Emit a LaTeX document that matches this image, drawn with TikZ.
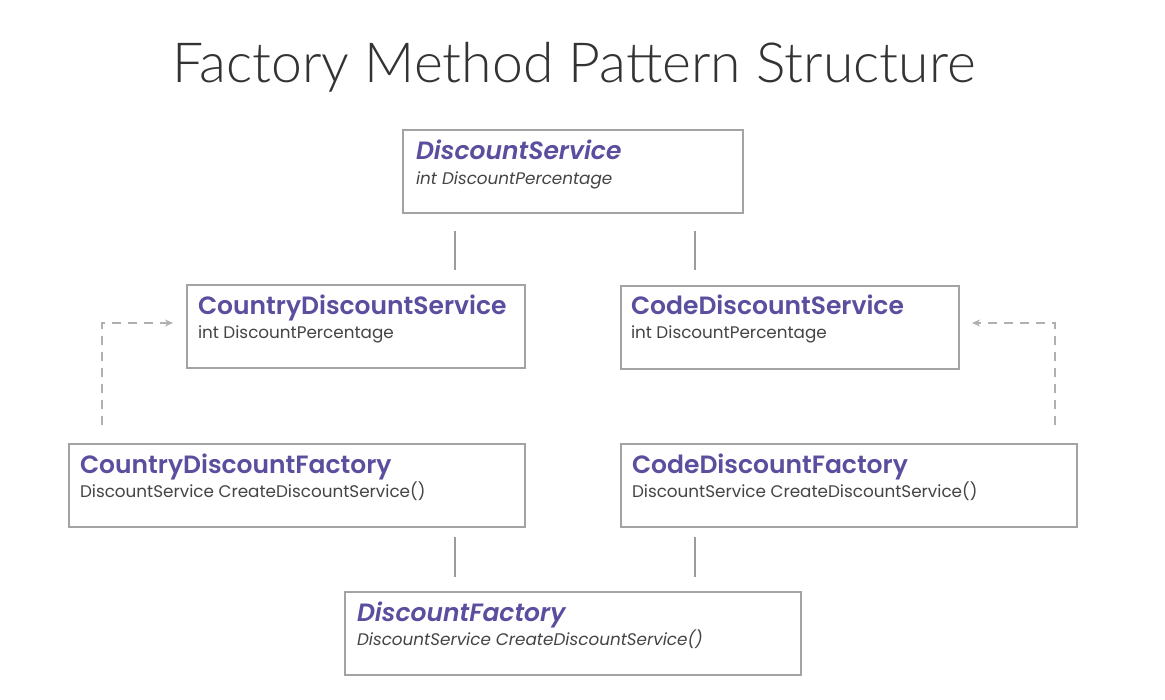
\documentclass[tikz,border=0pt]{standalone}
\usepackage{fontspec}
\setmainfont{Poppins}
\newfontfamily\titlefont{Lato Light}
\newfontfamily\headfont{Poppins SemiBold}
\usetikzlibrary{calc,arrows.meta}
\definecolor{purp}{HTML}{5A4E9E}
\definecolor{txt}{HTML}{444444}
\definecolor{boxc}{HTML}{A3A3A3}
\definecolor{linec}{HTML}{9C9C9C}
\definecolor{dashc}{HTML}{B0B0B0}
\tikzset{
  box/.style={draw=boxc, line width=2.4pt, fill=white, rectangle, inner sep=0pt},
  head/.style={anchor=base west, inner sep=0pt, text=purp, font=\headfont\fontsize{25}{28}\selectfont},
  sub/.style={anchor=base west, inner sep=0pt, text=txt, font=\fontsize{16.8}{20}\selectfont},
  conn/.style={draw=linec, line width=2pt},
  dep/.style={draw=dashc, line width=2pt, dash pattern=on 9pt off 7pt, -{Stealth[length=8pt,width=7pt]}},
}
\begin{document}
\begin{tikzpicture}[x=1pt,y=-1pt]
\useasboundingbox (0,0) rectangle (1165,700);
\node[anchor=base, inner sep=0pt, text=black!80, font=\titlefont\fontsize{55.3}{60}\selectfont] (title) at (574,83) {Factory Method Pattern Structure};

\node[box, minimum width=340, minimum height=83] (ds) at (573,171.5) {};
\node[box, minimum width=338, minimum height=83] (cds) at (356,326.5) {};
\node[box, minimum width=338, minimum height=83] (kds) at (790,327.5) {};
\node[box, minimum width=456, minimum height=83] (cdf) at (297,485.5) {};
\node[box, minimum width=456, minimum height=83] (kdf) at (849,485.5) {};
\node[box, minimum width=456, minimum height=83] (df) at (573,633.5) {};

\node[head, font=\headfont\itshape\fontsize{25}{28}\selectfont] (dsh) at ($(ds.north west)+(14,31)$) {DiscountService};
\node[sub, font=\itshape\fontsize{16.8}{20}\selectfont] (dss) at ($(ds.north west)+(14,56)$) {int DiscountPercentage};
\node[head] (cdsh) at ($(cds.north west)+(12,31)$) {CountryDiscountService};
\node[sub] (cdss) at ($(cds.north west)+(12,55)$) {int DiscountPercentage};
\node[head] (kdsh) at ($(kds.north west)+(11,30)$) {CodeDiscountService};
\node[sub] (kdss) at ($(kds.north west)+(11,54)$) {int DiscountPercentage};
\node[head] (cdfh) at ($(cdf.north west)+(12,31)$) {CountryDiscountFactory};
\node[sub] (cdfs) at ($(cdf.north west)+(12,55)$) {DiscountService CreateDiscountService()};
\node[head] (kdfh) at ($(kdf.north west)+(12,31)$) {CodeDiscountFactory};
\node[sub] (kdfs) at ($(kdf.north west)+(12,55)$) {DiscountService CreateDiscountService()};
\node[head, font=\headfont\itshape\fontsize{25}{28}\selectfont] (dfh) at ($(df.north west)+(13,31)$) {DiscountFactory};
\node[sub, font=\itshape\fontsize{16.8}{20}\selectfont] (dfs) at ($(df.north west)+(13,55)$) {DiscountService CreateDiscountService()};

% inheritance connectors (short stubs)
\coordinate (a1) at (455,231); \coordinate (a2) at (455,270);
\coordinate (b1) at (695,231); \coordinate (b2) at (695,270);
\coordinate (c1) at (455,537); \coordinate (c2) at (455,577);
\coordinate (d1) at (695,537); \coordinate (d2) at (695,577);
\draw[conn] (a1) -- (a2);
\draw[conn] (b1) -- (b2);
\draw[conn] (c1) -- (c2);
\draw[conn] (d1) -- (d2);

% dependency arrows
\coordinate (l0) at (102,425); \coordinate (l1) at (102,323); \coordinate (l2) at (173,323);
\coordinate (r0) at (1055,425); \coordinate (r1) at (1055,323); \coordinate (r2) at (972,323);
\draw[dep] (l0) -- (l1) -- (l2);
\draw[dep] (r0) -- (r1) -- (r2);
\end{tikzpicture}
\end{document}
